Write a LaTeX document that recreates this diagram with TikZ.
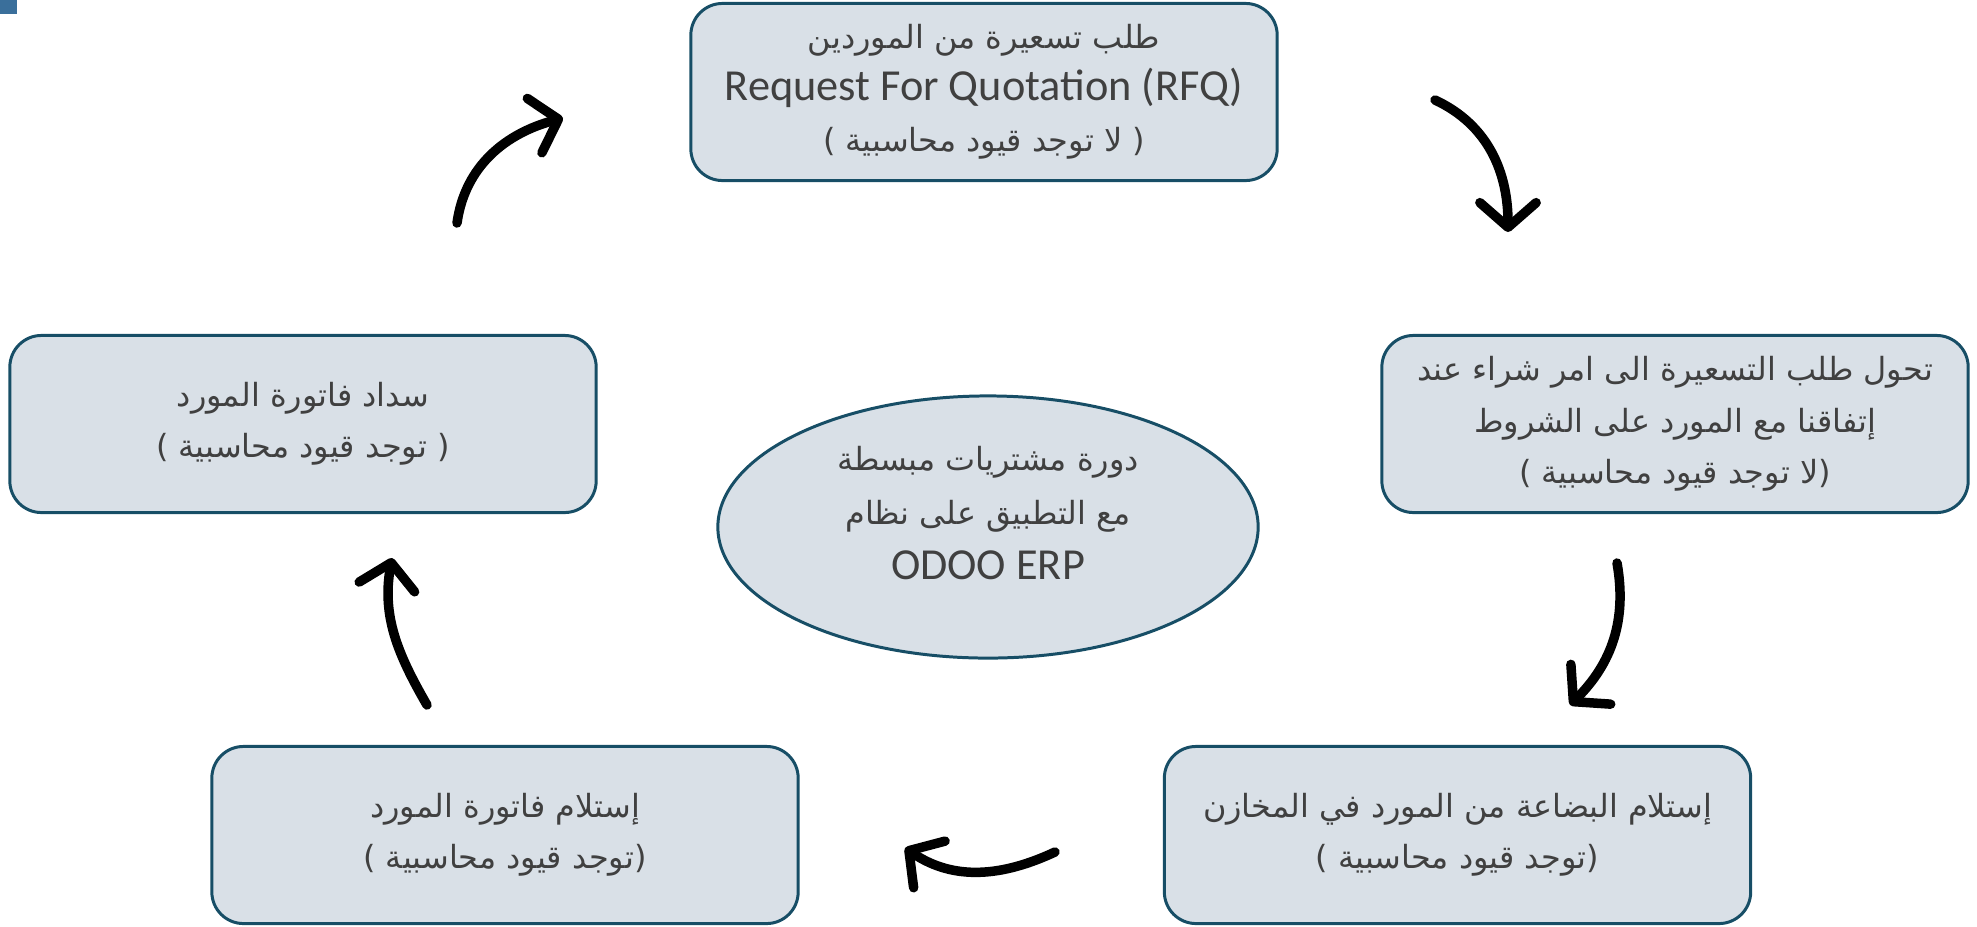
\documentclass[tikz,border=0pt]{standalone}
\usepackage{fontspec}
\setmainfont{Carlito}
\newfontfamily\arabicfont[Script=Arabic,Scale=0.72]{DejaVu Sans}
\TeXXeTstate=1
\usetikzlibrary{arrows.meta,shapes.geometric}
\newcommand{\arl}[1]{{\arabicfont\beginR #1\endR}}
\definecolor{fillcol}{HTML}{D9E0E7}
\definecolor{bordercol}{HTML}{174E66}
\definecolor{txtcol}{HTML}{404040}
\definecolor{squarecol}{HTML}{3A6F9B}
\begin{document}
\begin{tikzpicture}[x=0.01cm,y=0.01cm,
  box/.style={draw=bordercol, fill=fillcol, line width=0.85pt, rounded corners=9pt,
    minimum width=5.86cm, minimum height=1.77cm, align=center, text=txtcol,
    font=\fontsize{12.6}{14.6}\selectfont, inner sep=0pt},
  cyc/.style={line width=2.7pt, line cap=round, -{Straight Barb[length=7pt,width=16pt,round]}}]
\useasboundingbox (0,0) rectangle (1977,926);
\fill[squarecol] (0,926) rectangle (17,912);

\node[box] (rfq) at (984,834) {\arl{طلب تسعيرة من الموردين}\\Request For Quotation (RFQ)\\\arl{( لا توجد قيود محاسبية )}};
\node[box] (po) at (1675,502) {\arl{تحول طلب التسعيرة الى امر شراء عند}\\\arl{إتفاقنا مع المورد على الشروط}\\\arl{(لا توجد قيود محاسبية )}};
\node[box] (rcv) at (1457.5,91) {\arl{إستلام البضاعة من المورد في المخازن}\\\arl{(توجد قيود محاسبية )}};
\node[box] (inv) at (505,91) {\arl{إستلام فاتورة المورد}\\\arl{(توجد قيود محاسبية )}};
\node[box] (pay) at (303,502) {\arl{سداد فاتورة المورد}\\\arl{( توجد قيود محاسبية )}};
\node[ellipse, draw=bordercol, fill=fillcol, line width=0.85pt, minimum width=5.40cm, minimum height=2.62cm,
  inner sep=0pt] (ctr) at (988,399) {};
\node[align=center, text=txtcol, font=\fontsize{12.6}{15.4}\selectfont, inner sep=0pt] (ctrtext)
  at ([yshift=4pt]ctr.center) {\arl{دورة مشتريات مبسطة}\\\arl{مع التطبيق على نظام}\\ODOO ERP};

\coordinate (a1s) at (457,703); \coordinate (a1e) at (563,808);
\coordinate (a2s) at (1435,826); \coordinate (a2e) at (1508,694);
\coordinate (a3s) at (1617,363); \coordinate (a3e) at (1570,221);
\coordinate (a4s) at (1055,74); \coordinate (a4e) at (905,78);
\coordinate (a5s) at (427,221); \coordinate (a5e) at (392,368);
\draw[cyc] (a1s) to[out=82,in=195] (a1e);
\draw[cyc] (a2s) to[out=-25,in=90] (a2e);
\draw[cyc] (a3s) to[out=-80,in=45] (a3e);
\draw[cyc] (a4s) to[out=205,in=-34] (a4e);
\draw[cyc] (a5s) to[out=120,in=260] (a5e);
\end{tikzpicture}
\end{document}
